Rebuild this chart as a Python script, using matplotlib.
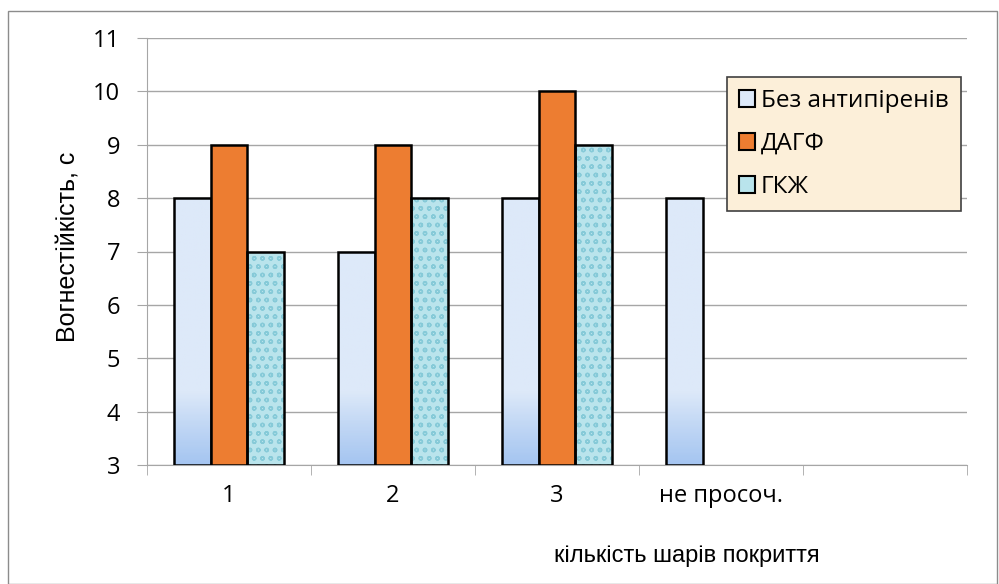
import numpy as np
import matplotlib
matplotlib.use("Agg")
import matplotlib.pyplot as plt
from matplotlib import font_manager
from matplotlib.patches import Patch, Rectangle
from matplotlib.colors import LinearSegmentedColormap

categories = ["1", "2", "3", "не просоч.", ""]
no_retardant = [8, 7, 8, 8, np.nan]
dagf = [9, 9, 10, np.nan, np.nan]
gkzh = [7, 8, 9, np.nan, np.nan]
series_names = ["Без антипіренів", "ДАГФ", "ГКЖ"]
y_ticks = [3, 4, 5, 6, 7, 8, 9, 10, 11]

installed = {f.name for f in font_manager.fontManager.ttflist}
LABEL_FONT = ["Open Sans", "DejaVu Sans"]
if "Liberation Sans Narrow" in installed:
    NARROW_FONT, NARROW_SIZE = ["Liberation Sans Narrow", "DejaVu Sans"], 20
else:
    NARROW_FONT, NARROW_SIZE = ["Liberation Sans", "DejaVu Sans"], 17

BASE = 3
width = 0.224
light_blue = "#dde9f9"
orange = "#ed7d31"
aqua = "#b9e4ec"

# light blue fading to a deeper blue near the base
blue_cmap = LinearSegmentedColormap.from_list(
    "blues", [(0.0, "#a5c5f1"), (0.1, "#c4d9f5"), (0.17, light_blue), (1.0, light_blue)])


def gradient_fill(ax, rect):
    x0, y0 = rect.get_x(), rect.get_y()
    w, h = rect.get_width(), rect.get_height()
    ys = np.linspace(y0, y0 + h, 200)
    frac = (ys - BASE) / (max(y_ticks) - BASE)
    im = ax.imshow(frac.reshape(-1, 1), extent=[x0, x0 + w, y0, y0 + h], origin="lower",
                   cmap=blue_cmap, vmin=0, vmax=1, aspect="auto", zorder=2)
    im.set_clip_path(rect)


fig = plt.figure(figsize=(9.99, 5.84), dpi=100)
ax = fig.add_axes([147 / 999, 1 - 465 / 584, 820 / 999, 427 / 584])

x = np.arange(len(categories))

# series 1: gradient fill with black outline
b1 = ax.bar(x - width, np.array(no_retardant) - BASE, width, bottom=BASE,
            color=light_blue, edgecolor="black", linewidth=1.8, zorder=3)
for r in b1:
    if np.isfinite(r.get_height()):
        r.set_facecolor("none")
        gradient_fill(ax, r)

ax.bar(x, np.array(dagf) - BASE, width, bottom=BASE,
       color=orange, edgecolor="black", linewidth=1.8, zorder=3)

# series 3: water-drop texture, then outline on top
ax.bar(x + width, np.array(gkzh) - BASE, width, bottom=BASE,
       color=aqua, edgecolor="#86cad8", hatch="oo", linewidth=0, zorder=2)
ax.bar(x + width, np.array(gkzh) - BASE, width, bottom=BASE,
       fill=False, edgecolor="black", linewidth=1.8, zorder=3)

ax.set_xlim(-0.5, len(categories) - 0.5)
ax.set_ylim(3, 11)
ax.set_yticks(y_ticks)
ax.set_yticklabels([str(t) for t in y_ticks], family=LABEL_FONT, fontsize=17)
ax.yaxis.grid(True, color="#a6a6a6", linewidth=1)
ax.set_axisbelow(True)

ax.set_xticks(x)
ax.set_xticklabels(categories, family=LABEL_FONT, fontsize=17)
ax.set_xticks(np.arange(len(categories) + 1) - 0.5, minor=True)
ax.tick_params(axis="x", which="major", length=0, pad=14)
ax.tick_params(axis="x", which="minor", length=7, color="#a6a6a6")
ax.tick_params(axis="y", length=7.2, color="#a6a6a6", pad=12)

for side in ["top", "right"]:
    ax.spines[side].set_visible(False)
for side in ["left", "bottom"]:
    ax.spines[side].set_color("#a6a6a6")

ax.set_ylabel("Вогнестійкість, с", family=NARROW_FONT, fontsize=NARROW_SIZE + 1)
ax.yaxis.label.set_va("center")
ax.yaxis.set_label_coords(-0.096, 0.51)
ax.set_xlabel("кількість шарів покриття", family=NARROW_FONT, fontsize=NARROW_SIZE)
ax.xaxis.label.set_va("center")
ax.xaxis.set_label_coords(0.658, -0.212)

handles = [
    Patch(facecolor=light_blue, edgecolor="black", linewidth=1.5),
    Patch(facecolor=orange, edgecolor="black", linewidth=1.5),
    Patch(facecolor=aqua, edgecolor="black", linewidth=1.5),
]
leg = ax.legend(handles, series_names, loc="upper left",
                bbox_to_anchor=(0.707, 0.909), borderaxespad=0,
                prop={"family": LABEL_FONT, "size": 17.5},
                handlelength=0.65, handleheight=0.65, handletextpad=0.25,
                labelspacing=0.78, borderpad=0.5, fancybox=False)
leg.get_frame().set_facecolor("#fcefd9")
leg.get_frame().set_edgecolor("#404040")
leg.get_frame().set_linewidth(1.2)
leg.get_frame().set_alpha(1)
leg.set_zorder(5)

# chart-area border
fig.patches.append(Rectangle((8 / 999, 0.5 / 584), 989 / 999, 573 / 584,
                             transform=fig.transFigure, fill=False,
                             edgecolor="#8c8c8c", linewidth=1))

fig.savefig("out.png", dpi=100)
